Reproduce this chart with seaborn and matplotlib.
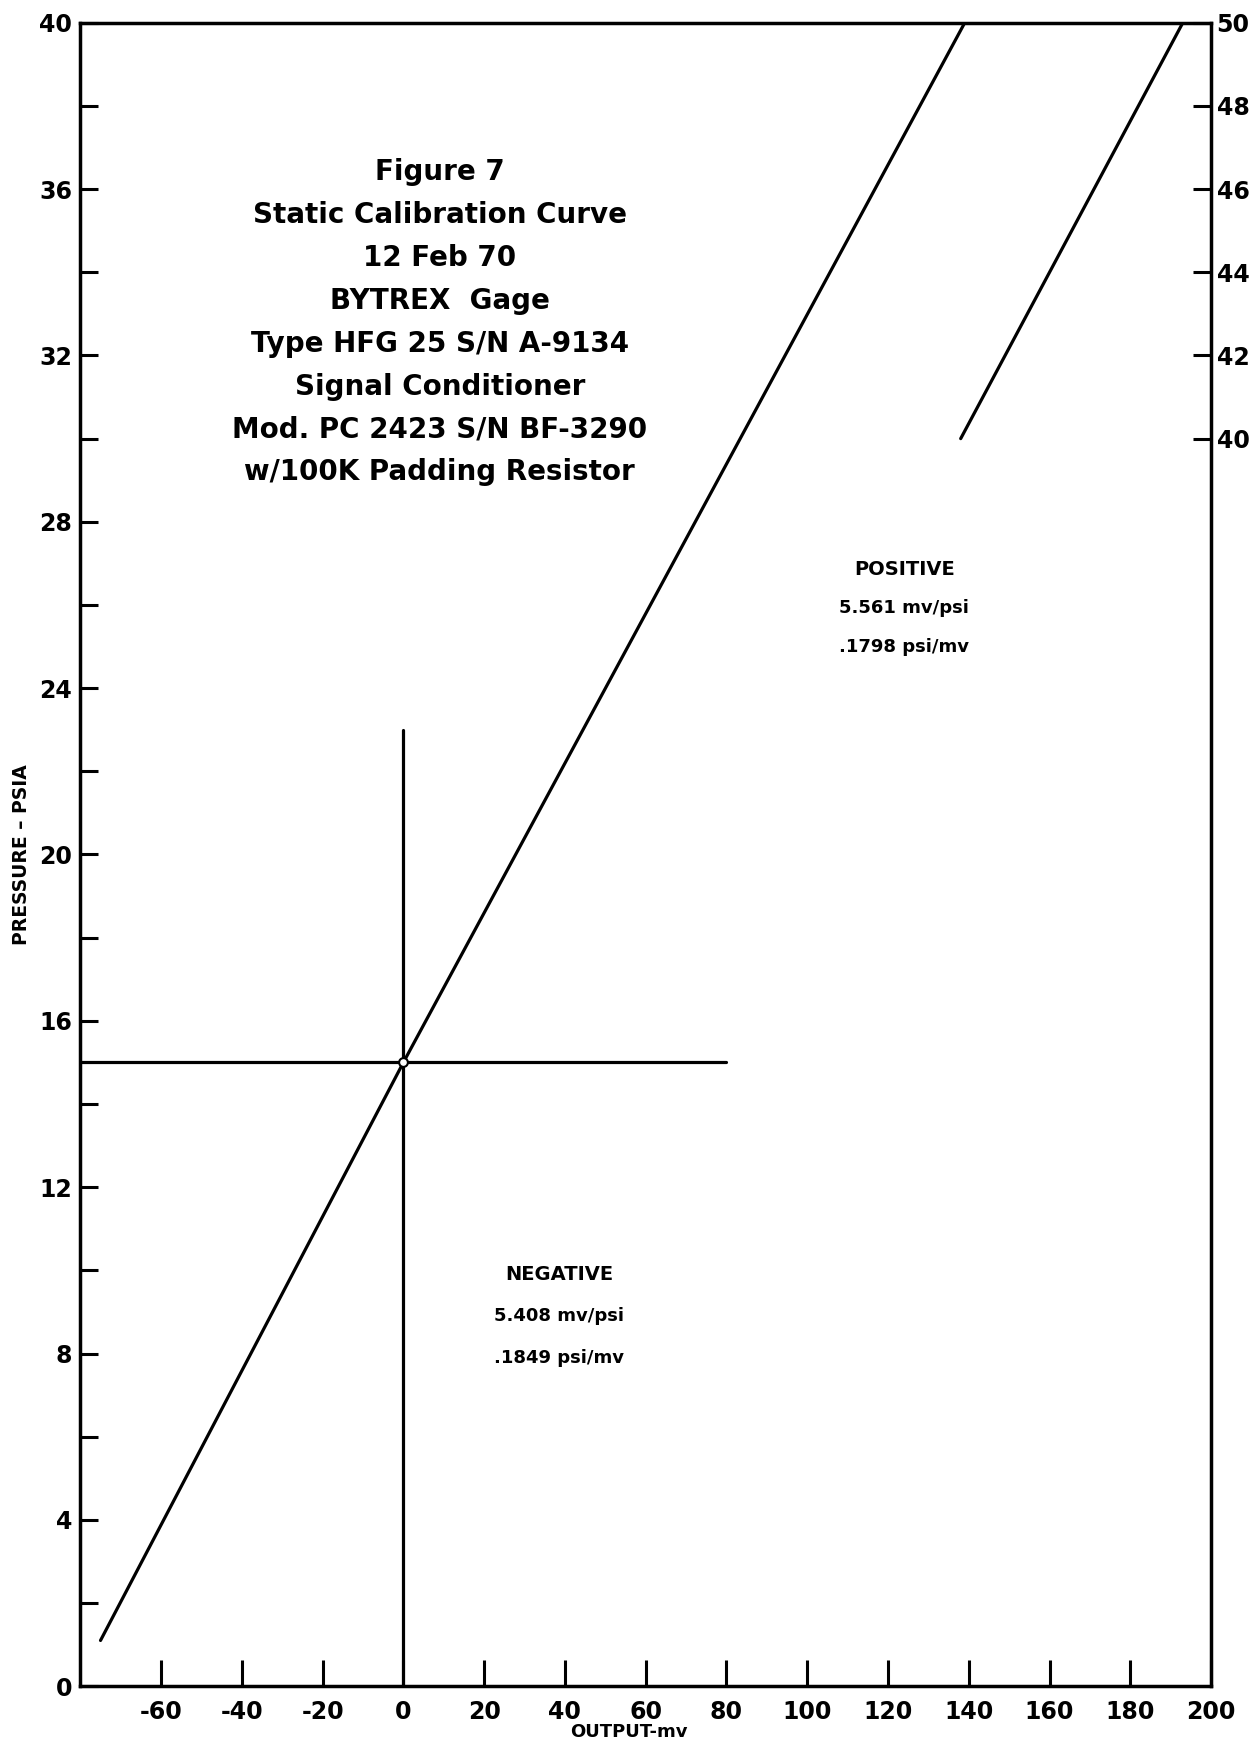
import matplotlib
matplotlib.use("Agg")
import matplotlib.pyplot as plt
import seaborn as sns

# calibration line (output mv vs pressure psia)
out_neg = [-75, 0]
psi_neg = [1.1, 15]
out_pos = [0, 139]
psi_pos = [15, 40]
# continuation of the positive line on the right-hand scale (40-50 psia)
out_high = [138, 193]
psi_high = [40, 50]

# reference cross at zero output / ambient pressure
vert_out = [0, 0]
vert_psi = [0, 23]
horiz_out = [-80, 80]
horiz_psi = [15, 15]

x_ticks = list(range(-60, 201, 20))
y_major = list(range(0, 41, 4))
y_minor = list(range(0, 41, 2))
right_ticks = list(range(40, 51, 2))

title_lines = [
    "Figure 7",
    "Static Calibration Curve",
    "12 Feb 70",
    "BYTREX  Gage",
    "Type HFG 25 S/N A-9134",
    "Signal Conditioner",
    "Mod. PC 2423 S/N BF-3290",
    "w/100K Padding Resistor",
]
pos_lines = ["POSITIVE", "5.561 mv/psi", ".1798 psi/mv"]
neg_lines = ["NEGATIVE", "5.408 mv/psi", ".1849 psi/mv"]

sns.set_theme(style="white")
plt.rcParams['font.family'] = ['DejaVu Sans']
plt.rcParams['axes.unicode_minus'] = False
plt.rcParams['text.color'] = 'black'
plt.rcParams['axes.labelcolor'] = 'black'

fig = plt.figure(figsize=(12.55, 17.51), dpi=100)
ax = fig.add_axes([0.064, 0.037, 0.901, 0.950])

lw = 2.3
for xs, ys in [(out_neg, psi_neg), (out_pos, psi_pos),
               (vert_out, vert_psi), (horiz_out, horiz_psi)]:
    sns.lineplot(x=xs, y=ys, ax=ax, color='black', linewidth=lw,
                 estimator=None, sort=False)

sns.scatterplot(x=[out_pos[0]], y=[psi_pos[0]], ax=ax, marker='o', s=40,
                facecolor='white', edgecolor='black', linewidth=1.5, zorder=5)

ax.set_xlim(-80, 200)
ax.set_ylim(0, 40)
ax.set_xticks(x_ticks)
ax.set_yticks(y_major)
ax.set_yticks(y_minor, minor=True)

for s in ax.spines.values():
    s.set_color('black')
    s.set_linewidth(2.5)

ax.tick_params(axis='x', which='major', direction='in', length=19, width=2.2,
               labelsize=17, pad=10, top=False, bottom=True, colors='black')
ax.tick_params(axis='y', which='both', direction='in', length=13, width=2.2,
               labelsize=17, pad=6, left=True, right=False, colors='black')
for lab in ax.get_xticklabels() + ax.get_yticklabels():
    lab.set_fontweight('bold')

ax.set_xlabel('OUTPUT-mv', fontsize=13, fontweight='bold', color='black')
ax.xaxis.set_label_coords(0.485, -0.022)
ax.set_ylabel('PRESSURE – PSIA', fontsize=13.5, fontweight='bold',
              color='black', labelpad=6)

# right-hand scale for 40-50 psia
ax2 = ax.twinx()
ax2.set_ylim(10, 50)
sns.lineplot(x=out_high, y=psi_high, ax=ax2, color='black', linewidth=lw,
             estimator=None, sort=False)
ax2.set_yticks(right_ticks)
ax2.tick_params(axis='y', direction='in', length=13, width=2.2, labelsize=17,
                pad=4, colors='black')
for lab in ax2.get_yticklabels():
    lab.set_fontweight('bold')
ax2.grid(False)
for s in ax2.spines.values():
    s.set_visible(False)

# annotation block
for i, line in enumerate(title_lines):
    ax.text(9, 36.4 - i * 1.03, line, ha='center', va='center',
            fontsize=20, fontweight='bold', color='black')

for i, line in enumerate(pos_lines):
    ax.text(124, 26.85 - i * 0.93, line, ha='center', va='center',
            fontsize=14 if i == 0 else 13, fontweight='bold', color='black')
for i, line in enumerate(neg_lines):
    ax.text(38.5, 9.9 - i * 1.0, line, ha='center', va='center',
            fontsize=14 if i == 0 else 13, fontweight='bold', color='black')

fig.savefig('out.png', dpi=100)
